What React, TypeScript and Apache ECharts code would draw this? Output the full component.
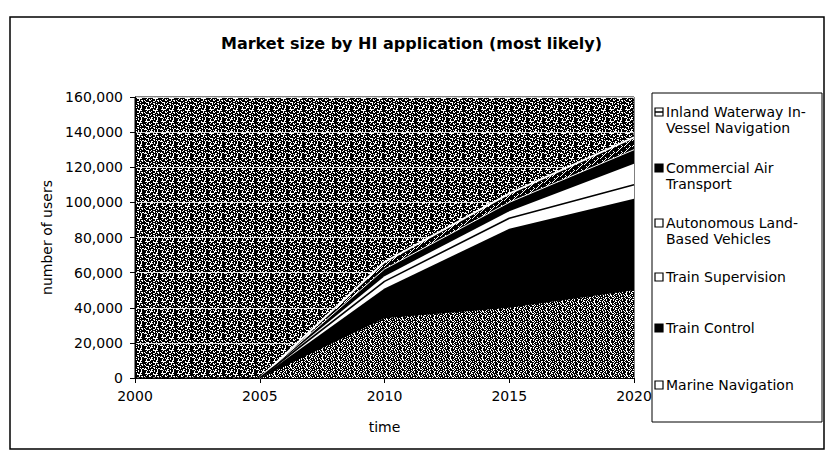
import React, { useEffect, useRef } from "react";
import * as echarts from "echarts";

// ---- data ----
const years = [2005, 2010, 2015, 2020];
const xTicks = [2000, 2005, 2010, 2015, 2020];
const yTicks = [0, 20000, 40000, 60000, 80000, 100000, 120000, 140000, 160000];

const marineNavigation = [0, 34000, 40000, 50000];
const trainControl = [0, 17000, 45000, 52000];
const trainSupervision = [0, 4000, 6000, 8000];
const autonomousLandVehicles = [0, 3000, 4000, 12000];
const commercialAirTransport = [0, 4000, 5000, 8000];
const inlandWaterway = [0, 4000, 5000, 7000];

// stacking order, bottom to top
const seriesNames = [
  "Marine Navigation",
  "Train Control",
  "Train Supervision",
  "Autonomous Land-Based Vehicles",
  "Commercial Air Transport",
  "Inland Waterway In-Vessel Navigation",
];

// legend entries, top to bottom, one array of lines per entry
const legendLines = [
  ["Inland Waterway In-", "Vessel Navigation"],
  ["Commercial Air", "Transport"],
  ["Autonomous Land-", "Based Vehicles"],
  ["Train Supervision"],
  ["Train Control"],
  ["Marine Navigation"],
];

const FONT = '"DejaVu Sans", "Liberation Sans", sans-serif';

// halftone-like tiles ('#' = ink, '.' = paper)
const BG_GRAIN = [
  "##.###.#####..##",
  "#.....###.##.###",
  "###.#####.....##",
  "##.##.#.###.####",
  ".####..####.#..#",
  "#.#######..###.#",
  "##...##.####.###",
  "####.#.##..#####",
  "#.##.#####.#.#..",
  "...####..####.##",
  "###.#.#.##.##.##",
  "##.###...#.##.##",
];

const MARINE_GRAIN = [
  "#.#.##.####.####",
  ".###..#.#.###..#",
  "#.####.####.#.##",
  "##..#.##..##.#.#",
  "##.##.#.###.##.#",
  "#..####..#.#.###",
  "##.###.###.##.#.",
  ".#..#.##.##.#.##",
];

const INLAND_GRAIN = [
  "##.#####",
  "#.###.##",
  ".#####.#",
  "#####.##",
  "##.#.###",
  "###.####",
];

function makePattern(rows: string[]) {
  const h = rows.length;
  const w = rows[0].length;
  const c = document.createElement("canvas");
  c.width = w;
  c.height = h;
  const ctx = c.getContext("2d")!;
  ctx.fillStyle = "#ffffff";
  ctx.fillRect(0, 0, w, h);
  ctx.fillStyle = "#000000";
  rows.forEach((row, y) => {
    for (let x = 0; x < w; x++) {
      if (row[x] === "#") ctx.fillRect(x, y, 1, 1);
    }
  });
  return {
    image: c.toDataURL(),
    imageWidth: w,
    imageHeight: h,
    repeat: "repeat",
  } as any;
}

export default function App() {
  const ref = useRef<HTMLDivElement>(null);

  useEffect(() => {
    if (!ref.current) return;
    const chart = echarts.init(ref.current, null, { renderer: "svg" });

    const bgPattern = makePattern(BG_GRAIN);
    const marinePattern = makePattern(MARINE_GRAIN);
    const inlandPattern = makePattern(INLAND_GRAIN);

    const layers = [
      marineNavigation,
      trainControl,
      trainSupervision,
      autonomousLandVehicles,
      commercialAirTransport,
      inlandWaterway,
    ];
    // running totals: each layer's upper edge
    const totals: number[][] = [];
    layers.forEach((vals, i) => {
      totals.push(vals.map((v, j) => v + (i > 0 ? totals[i - 1][j] : 0)));
    });

    const areaFills = [marinePattern, "#000000", "#ffffff", "#ffffff", "#000000", inlandPattern];
    const lineStyles = [
      { width: 0, color: "#000" },
      { width: 0, color: "#000" },
      { width: 1.6, color: "#000" },
      { width: 0, color: "#000" },
      { width: 1, color: "#ffffff" },
      { width: 2, color: "#ffffff" },
    ];

    // each area is filled down to zero; the tallest is painted first so
    // the lower layers sit on top of it, giving the stacked look
    const series = seriesNames
      .map((name, i) => ({
        name,
        type: "line",
        data: years.map((yr, j) => [yr, totals[i][j]]),
        showSymbol: false,
        symbol: "none",
        lineStyle: lineStyles[i],
        areaStyle: { color: areaFills[i], opacity: 1 },
      }))
      .reverse();

    // legend drawn as graphic elements
    const legendX = 652;
    const legendY = 93;
    const firstLineY = [112, 168, 223, 277, 328, 385];
    const iconFill = ["#fff", "#000", "#fff", "#fff", "#000", "#fff"];
    const legendChildren: any[] = [
      {
        type: "rect",
        shape: { x: legendX, y: legendY, width: 170, height: 329 },
        style: { fill: "#fff", stroke: "#000", lineWidth: 1 },
      },
    ];
    legendLines.forEach((lines, i) => {
      const cy = firstLineY[i];
      legendChildren.push({
        type: "rect",
        shape: { x: legendX + 3, y: cy - 4, width: 8, height: 8 },
        style: { fill: iconFill[i], stroke: "#000", lineWidth: 1.2 },
      });
      if (i === 0) {
        legendChildren.push({
          type: "line",
          shape: { x1: legendX + 3, y1: cy, x2: legendX + 11, y2: cy },
          style: { stroke: "#000", lineWidth: 1.5 },
        });
      }
      lines.forEach((line, k) => {
        legendChildren.push({
          type: "text",
          x: legendX + 14,
          y: cy + k * 16,
          style: {
            text: line,
            font: `14px ${FONT}`,
            fill: "#000",
            verticalAlign: "middle",
            align: "left",
          },
        });
      });
    });

    const option: any = {
      animation: false,
      backgroundColor: "#ffffff",
      textStyle: { fontFamily: FONT },
      title: {
        text: "Market size by HI application (most likely)",
        left: 216,
        top: 30,
        textStyle: { fontSize: 16, fontWeight: "bold", color: "#000", fontFamily: FONT },
      },
      grid: {
        left: 135,
        right: 198,
        top: 97,
        bottom: 83,
        show: true,
        backgroundColor: bgPattern,
        borderColor: "#000",
        borderWidth: 1,
      },
      xAxis: {
        type: "value",
        min: xTicks[0],
        max: xTicks[xTicks.length - 1],
        interval: xTicks[1] - xTicks[0],
        name: "time",
        nameLocation: "middle",
        nameGap: 42,
        nameTextStyle: { fontSize: 14, color: "#000", fontFamily: FONT },
        axisLine: { show: true, lineStyle: { color: "#000", width: 1 } },
        axisTick: { show: true, length: 5, lineStyle: { color: "#000" } },
        axisLabel: {
          fontSize: 14,
          color: "#000",
          margin: 11,
          formatter: (v: number) => String(v),
        },
        splitLine: { show: false },
      },
      yAxis: {
        type: "value",
        min: yTicks[0],
        max: yTicks[yTicks.length - 1],
        interval: yTicks[1] - yTicks[0],
        name: "number of users",
        nameLocation: "middle",
        nameGap: 62,
        nameTextStyle: { fontSize: 14, color: "#000", fontFamily: FONT },
        axisLine: { show: true, lineStyle: { color: "#000", width: 1 } },
        axisTick: { show: true, length: 5, lineStyle: { color: "#000" } },
        axisLabel: {
          fontSize: 14,
          color: "#000",
          margin: 12,
          formatter: (v: number) => v.toLocaleString("en-US"),
        },
        splitLine: { show: true, lineStyle: { color: "rgba(255,255,255,0.8)", width: 1.2 } },
      },
      series,
      graphic: [
        {
          type: "rect",
          z: -10,
          shape: { x: 10, y: 17, width: 814, height: 432 },
          style: { fill: "transparent", stroke: "#000", lineWidth: 1.5 },
        },
        { type: "group", children: legendChildren },
      ],
    };

    chart.setOption(option);
    return () => chart.dispose();
  }, []);

  return (
    <div
      ref={ref}
      style={{ position: "fixed", left: 0, top: 0, width: 832, height: 461 }}
    />
  );
}
